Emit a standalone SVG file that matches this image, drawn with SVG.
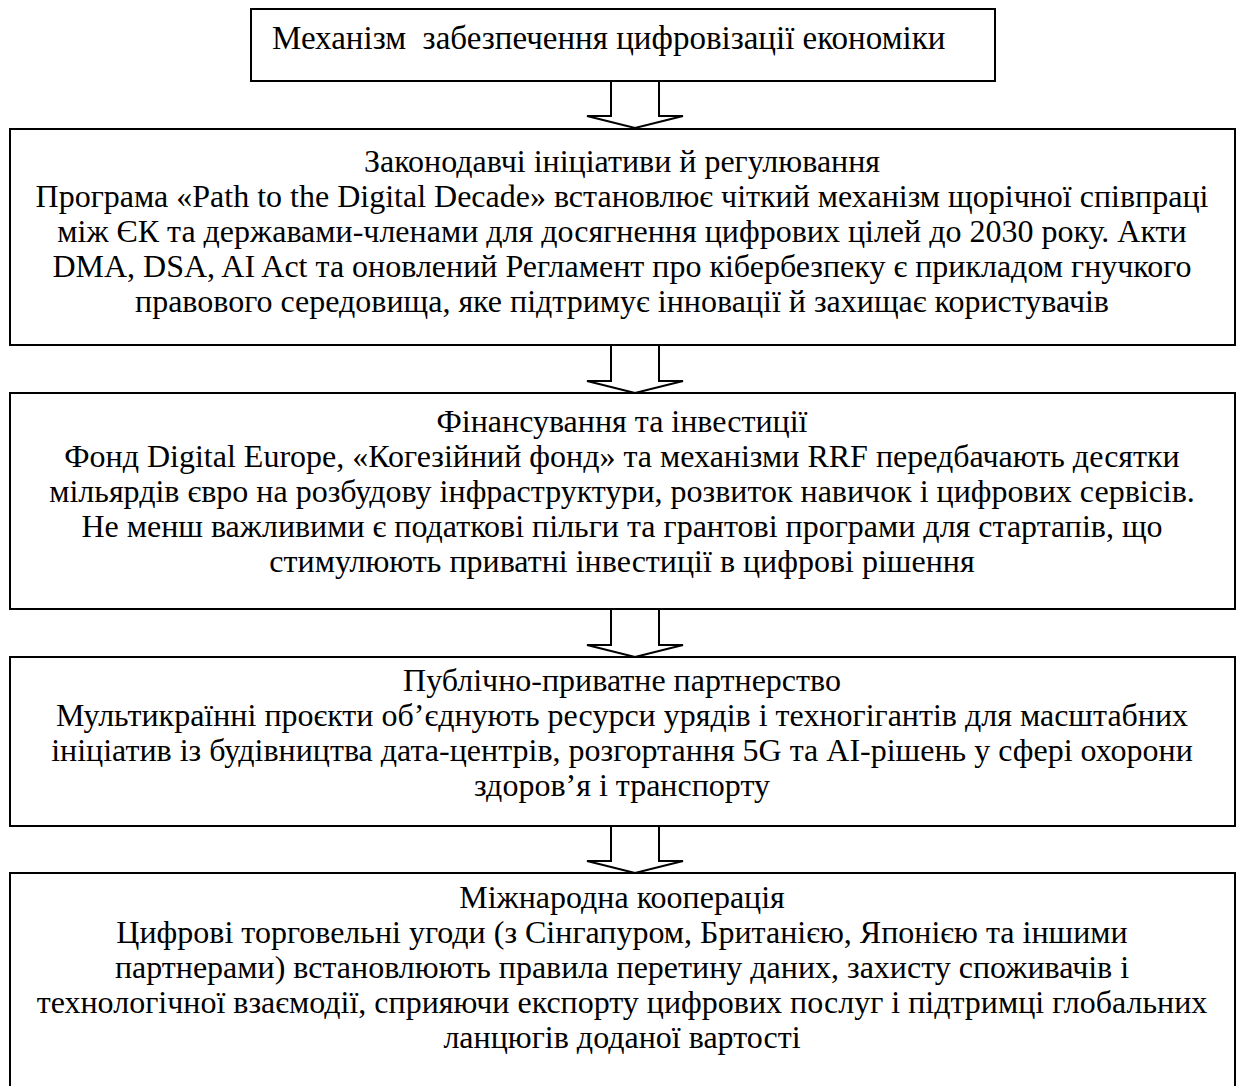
<svg xmlns="http://www.w3.org/2000/svg" width="1240" height="1086" viewBox="0 0 1240 1086">
<style>
.box{fill:#fff;stroke:#000;stroke-width:2}
.arr{fill:#fff;stroke:#000;stroke-width:2;stroke-linejoin:miter}
text{font-family:"Liberation Serif","Times New Roman",serif;font-size:32px;fill:#000}
.c{text-anchor:middle}
</style>
<rect width="1240" height="1086" fill="#fff"/>
<g id="connectors">
<polygon class="arr" points="611,81 611,116 587,116 635,128 683,116 659,116 659,81"/>
<polygon class="arr" points="611,345 611,381 587,381 635,393 683,381 659,381 659,345"/>
<polygon class="arr" points="611,609 611,645 587,645 635,657 683,645 659,645 659,609"/>
<polygon class="arr" points="611,826 611,861 587,861 635,873 683,861 659,861 659,826"/>
</g>
<g id="n1">
<rect class="box" x="251" y="9" width="744" height="72"/>
<text x="272" y="49" xml:space="preserve" style="font-size:33px">Механізм  забезпечення цифровізації економіки</text>
</g>
<g id="n2">
<rect class="box" x="10" y="129" width="1225" height="216"/>
<text class="c" x="622" y="172">Законодавчі ініціативи й регулювання</text>
<text class="c" x="622" y="207">Програма «Path to the Digital Decade» встановлює чіткий механізм щорічної співпраці</text>
<text class="c" x="622" y="242">між ЄК та державами-членами для досягнення цифрових цілей до 2030 року. Акти</text>
<text class="c" x="622" y="277">DMA, DSA, AI Act та оновлений Регламент про кібербезпеку є прикладом гнучкого</text>
<text class="c" x="622" y="312">правового середовища, яке підтримує інновації й захищає користувачів</text>
</g>
<g id="n3">
<rect class="box" x="10" y="393" width="1225" height="216"/>
<text class="c" x="622" y="432">Фінансування та інвестиції</text>
<text class="c" x="622" y="467">Фонд Digital Europe, «Когезійний фонд» та механізми RRF передбачають десятки</text>
<text class="c" x="622" y="502">мільярдів євро на розбудову інфраструктури, розвиток навичок і цифрових сервісів.</text>
<text class="c" x="622" y="537">Не менш важливими є податкові пільги та грантові програми для стартапів, що</text>
<text class="c" x="622" y="572">стимулюють приватні інвестиції в цифрові рішення</text>
</g>
<g id="n4">
<rect class="box" x="10" y="657" width="1225" height="169"/>
<text class="c" x="622" y="691">Публічно-приватне партнерство</text>
<text class="c" x="622" y="726">Мультикраїнні проєкти об’єднують ресурси урядів і техногігантів для масштабних</text>
<text class="c" x="622" y="761">ініціатив із будівництва дата-центрів, розгортання 5G та AI-рішень у сфері охорони</text>
<text class="c" x="622" y="796">здоров’я і транспорту</text>
</g>
<g id="n5">
<rect class="box" x="10" y="873" width="1225" height="240"/>
<text class="c" x="622" y="908">Міжнародна кооперація</text>
<text class="c" x="622" y="943">Цифрові торговельні угоди (з Сінгапуром, Британією, Японією та іншими</text>
<text class="c" x="622" y="978">партнерами) встановлюють правила перетину даних, захисту споживачів і</text>
<text class="c" x="622" y="1013">технологічної взаємодії, сприяючи експорту цифрових послуг і підтримці глобальних</text>
<text class="c" x="622" y="1048">ланцюгів доданої вартості</text>
</g>
</svg>
